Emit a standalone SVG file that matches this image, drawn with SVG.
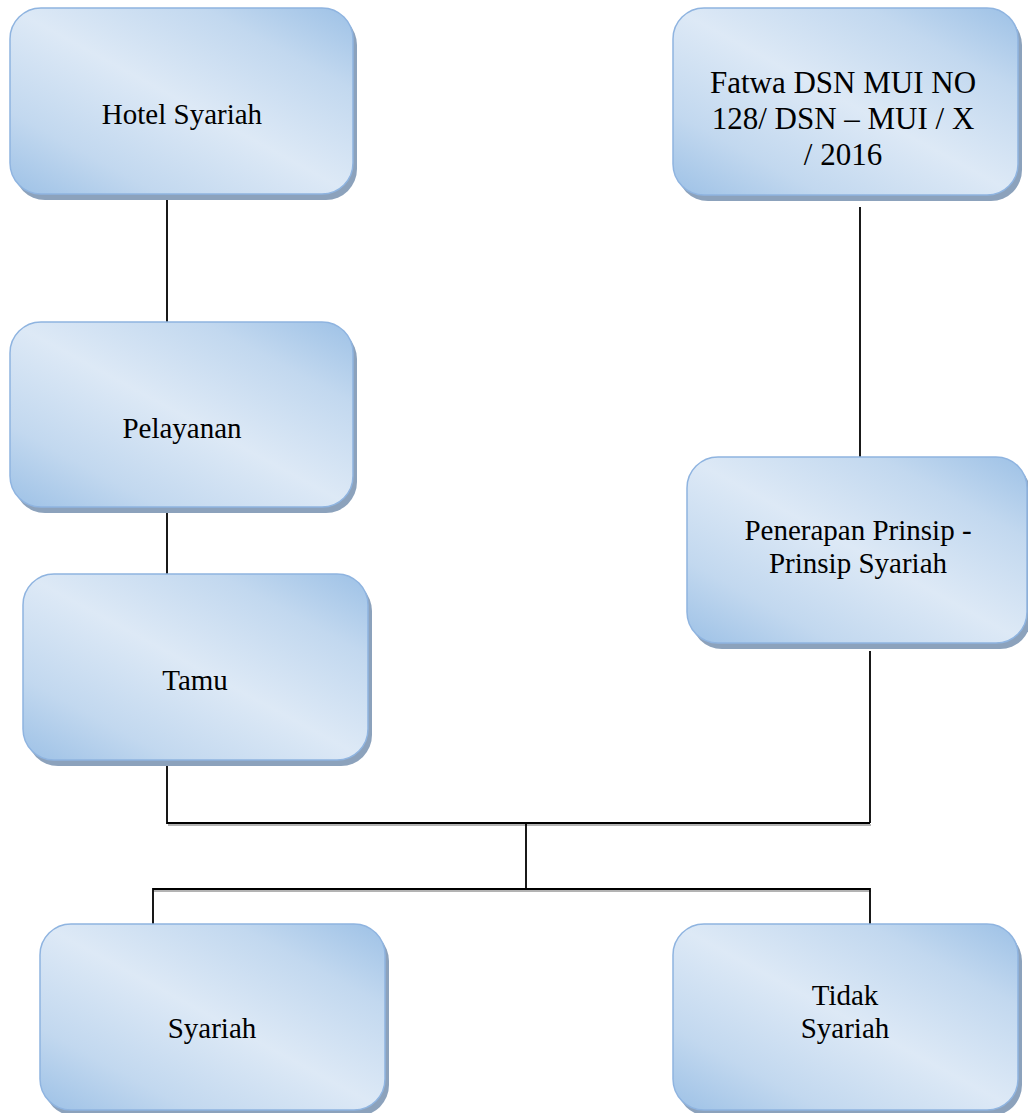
<svg xmlns="http://www.w3.org/2000/svg" width="1028" height="1113" viewBox="0 0 1028 1113">
  <defs>
    <linearGradient id="boxFill" x1="1" y1="0" x2="0" y2="1">
      <stop offset="0" stop-color="#9dc1e6"/>
      <stop offset="0.22" stop-color="#c2d8ef"/>
      <stop offset="0.5" stop-color="#dde9f6"/>
      <stop offset="0.78" stop-color="#c2d8ef"/>
      <stop offset="1" stop-color="#9dc1e6"/>
    </linearGradient>
  </defs>
  <style>
    .shadow { fill: #8ca2bc; }
    .box { fill: url(#boxFill); stroke: #8fb4e0; stroke-width: 1.5; }
    .label { font-family: "Liberation Serif", "Times New Roman", serif; font-size: 29px; fill: #000; text-anchor: middle; }
    .big { font-size: 31px; }
    .conn { stroke: #000; stroke-width: 1.8; fill: none; }
    .connShadow { stroke: #9a9a9a; stroke-width: 1.6; fill: none; }
  </style>
  <rect width="1028" height="1113" fill="#ffffff"/>

  <g id="connectors">
    <path class="connShadow" d="M168 825 H871 M154 891 H871"/>
    <path class="conn" d="M167 194 V322"/>
    <path class="conn" d="M860 207 V457"/>
    <path class="conn" d="M167 507 V574"/>
    <path class="conn" d="M167 761 V823 H870 M870 651 V823"/>
    <path class="conn" d="M526 823 V889"/>
    <path class="conn" d="M153 924 V889 H870 V924"/>
  </g>

  <g id="hotel-syariah">
    <rect class="shadow" x="14" y="14" width="343" height="186" rx="31"/>
    <rect class="box" x="10" y="8" width="343" height="186" rx="31"/>
    <text class="label" x="182" y="124">Hotel Syariah</text>
  </g>

  <g id="fatwa">
    <rect class="shadow" x="677" y="14" width="345" height="187" rx="31"/>
    <rect class="box" x="673" y="8" width="345" height="187" rx="31"/>
    <text class="label big" x="843" y="93">Fatwa DSN MUI NO</text>
    <text class="label big" x="843" y="129">128/ DSN – MUI / X</text>
    <text class="label big" x="843" y="165">/ 2016</text>
  </g>

  <g id="pelayanan">
    <rect class="shadow" x="14" y="328" width="343" height="185" rx="31"/>
    <rect class="box" x="10" y="322" width="343" height="185" rx="31"/>
    <text class="label" x="182" y="438">Pelayanan</text>
  </g>

  <g id="penerapan">
    <rect class="shadow" x="691" y="463" width="340" height="186" rx="31"/>
    <rect class="box" x="687" y="457" width="340" height="186" rx="31"/>
    <text class="label" x="858" y="540">Penerapan Prinsip -</text>
    <text class="label" x="858" y="573">Prinsip Syariah</text>
  </g>

  <g id="tamu">
    <rect class="shadow" x="27" y="580" width="345" height="186" rx="31"/>
    <rect class="box" x="23" y="574" width="345" height="186" rx="31"/>
    <text class="label" x="195" y="690">Tamu</text>
  </g>

  <g id="syariah">
    <rect class="shadow" x="44" y="930" width="345" height="186" rx="31"/>
    <rect class="box" x="40" y="924" width="345" height="186" rx="31"/>
    <text class="label" x="212" y="1038">Syariah</text>
  </g>

  <g id="tidak-syariah">
    <rect class="shadow" x="677" y="930" width="345" height="186" rx="31"/>
    <rect class="box" x="673" y="924" width="345" height="186" rx="31"/>
    <text class="label" x="845" y="1005">Tidak</text>
    <text class="label" x="845" y="1038">Syariah</text>
  </g>
</svg>
